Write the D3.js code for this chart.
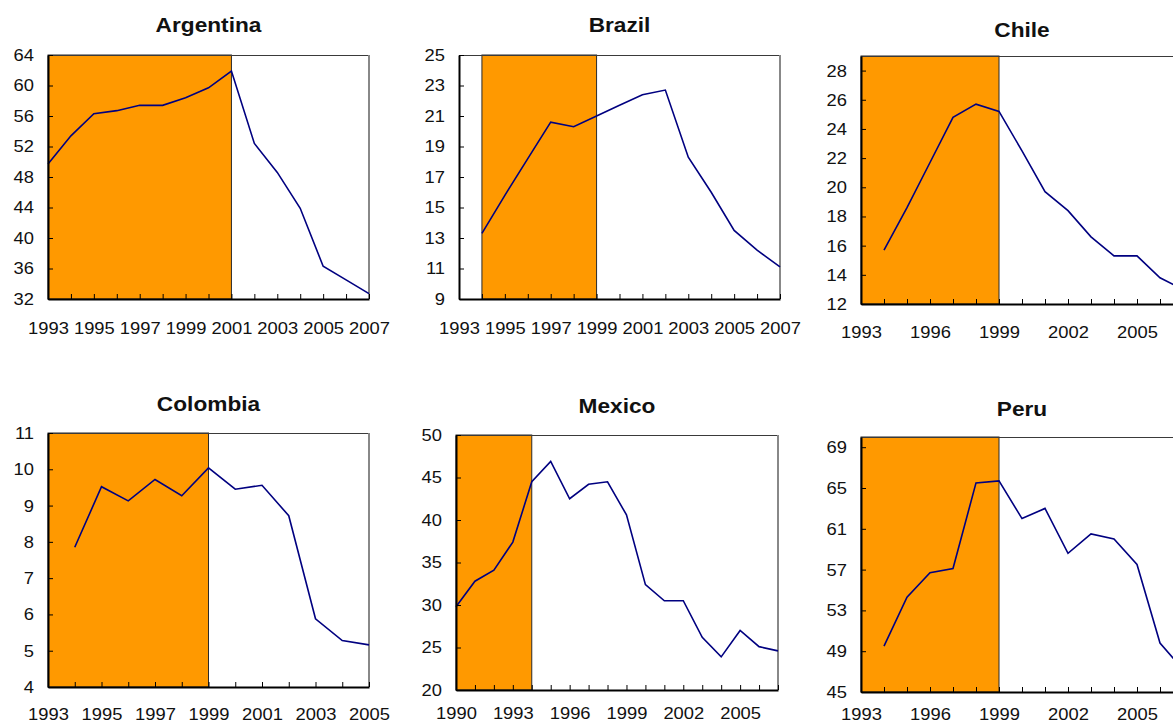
<!DOCTYPE html>
<html>
<head>
<meta charset="utf-8">
<script src="https://cdn.jsdelivr.net/npm/d3@7"></script>
<style>
  body { margin: 0; background: #fff; }
  svg { display: block; font-family: "Liberation Sans", Arial, sans-serif; }
</style>
</head>
<body>
<svg id="chart" width="1173" height="725"></svg>
<script>
// ---- data ----
const argYears = [1993, 1994, 1995, 1996, 1997, 1998, 1999, 2000, 2001, 2002, 2003, 2004, 2005, 2006, 2007];
const argValues = [49.7, 53.4, 56.3, 56.7, 57.4, 57.4, 58.4, 59.7, 61.9, 52.4, 48.6, 43.9, 36.3, 34.5, 32.7];
const argTicks = [32, 36, 40, 44, 48, 52, 56, 60, 64];
const argShade = [1993, 2001];

const braYears = [1993, 1994, 1995, 1996, 1997, 1998, 1999, 2000, 2001, 2002, 2003, 2004, 2005, 2006, 2007];
const braValues = [null, 13.3, 15.8, 18.2, 20.6, 20.3, 21.0, 21.7, 22.4, 22.7, 18.3, 16.0, 13.5, 12.2, 11.1];
const braTicks = [9, 11, 13, 15, 17, 19, 21, 23, 25];
const braShade = [1994, 1999];

const chiYears = [1993, 1994, 1995, 1996, 1997, 1998, 1999, 2000, 2001, 2002, 2003, 2004, 2005, 2006, 2007];
const chiValues = [null, 15.7, 18.6, 21.7, 24.8, 25.7, 25.2, 22.5, 19.7, 18.4, 16.6, 15.3, 15.3, 13.8, 13.0];
const chiTicks = [12, 14, 16, 18, 20, 22, 24, 26, 28];
const chiShade = [1993, 1999];

const colYears = [1993, 1994, 1995, 1996, 1997, 1998, 1999, 2000, 2001, 2002, 2003, 2004, 2005];
const colValues = [null, 7.85, 9.52, 9.13, 9.72, 9.27, 10.04, 9.45, 9.56, 8.72, 5.88, 5.28, 5.16];
const colTicks = [4, 5, 6, 7, 8, 9, 10, 11];
const colShade = [1993, 1999];

const mexYears = [1990, 1991, 1992, 1993, 1994, 1995, 1996, 1997, 1998, 1999, 2000, 2001, 2002, 2003, 2004, 2005, 2006, 2007];
const mexValues = [29.8, 32.8, 34.1, 37.4, 44.5, 46.9, 42.5, 44.2, 44.5, 40.6, 32.4, 30.5, 30.5, 26.2, 23.9, 27.0, 25.1, 24.6];
const mexTicks = [20, 25, 30, 35, 40, 45, 50];
const mexShade = [1990, 1994];

const perYears = [1993, 1994, 1995, 1996, 1997, 1998, 1999, 2000, 2001, 2002, 2003, 2004, 2005, 2006, 2007];
const perValues = [null, 49.5, 54.3, 56.7, 57.1, 65.5, 65.7, 62.0, 63.0, 58.6, 60.5, 60.0, 57.5, 49.8, 47.2];
const perTicks = [45, 49, 53, 57, 61, 65, 69];
const perShade = [1993, 1999];

// ---- layout of each small panel ----
const panels = [
  { title: "Argentina", years: argYears, values: argValues, yTicks: argTicks, yMax: 64, shade: argShade, step: 2,
    left: 48, right: 369, top: 55, bottom: 299, titleY: 32, labelY: 334 },
  { title: "Brazil", years: braYears, values: braValues, yTicks: braTicks, yMax: 25, shade: braShade, step: 2,
    left: 459, right: 780, top: 55, bottom: 299, titleY: 32, labelY: 334 },
  { title: "Chile", years: chiYears, values: chiValues, yTicks: chiTicks, yMax: 29, shade: chiShade, step: 3,
    left: 861, right: 1183, top: 56, bottom: 304, titleY: 37, labelY: 338 },
  { title: "Colombia", years: colYears, values: colValues, yTicks: colTicks, yMax: 11, shade: colShade, step: 2,
    left: 48, right: 369, top: 433, bottom: 687, titleY: 411, labelY: 720 },
  { title: "Mexico", years: mexYears, values: mexValues, yTicks: mexTicks, yMax: 50, shade: mexShade, step: 3,
    left: 456, right: 778, top: 435, bottom: 690, titleY: 413, labelY: 719 },
  { title: "Peru", years: perYears, values: perValues, yTicks: perTicks, yMax: 70, shade: perShade, step: 3,
    left: 861, right: 1183, top: 437, bottom: 692, titleY: 416, labelY: 720 }
];

const svg = d3.select("#chart");
const stretch = 1.08;   // reference text is a bit wider than plain Arial
const fontSize = 17;

panels.forEach(p => {
  const g = svg.append("g");
  const x = d3.scaleLinear()
    .domain([p.years[0], p.years[p.years.length - 1]])
    .range([p.left, p.right]);
  const y = d3.scaleLinear()
    .domain([p.yTicks[0], p.yMax])
    .range([p.bottom, p.top]);

  // shaded period
  g.append("rect")
    .attr("x", x(p.shade[0]))
    .attr("y", p.top)
    .attr("width", x(p.shade[1]) - x(p.shade[0]))
    .attr("height", p.bottom - p.top)
    .attr("fill", "#ff9900")
    .attr("stroke", "#2b2b2b")
    .attr("stroke-width", 1);

  // plot frame (top and right)
  g.append("line")
    .attr("x1", p.left).attr("x2", p.right)
    .attr("y1", p.top + 0.5).attr("y2", p.top + 0.5)
    .attr("stroke", "#3a3a3a").attr("stroke-width", 1.2);
  g.append("line")
    .attr("x1", p.right).attr("x2", p.right)
    .attr("y1", p.top).attr("y2", p.bottom)
    .attr("stroke", "#888").attr("stroke-width", 2);

  // series line
  const pts = p.years.map((yr, i) => ({ yr: yr, v: p.values[i] }));
  const line = d3.line()
    .defined(d => d.v != null)
    .x(d => x(d.yr))
    .y(d => y(d.v));
  g.append("path")
    .datum(pts)
    .attr("d", line)
    .attr("fill", "none")
    .attr("stroke", "#000080")
    .attr("stroke-width", 1.6);

  // x-axis
  const xAxis = d3.axisBottom(x)
    .tickValues(p.years)
    .tickSize(-5)
    .tickSizeOuter(0)
    .tickPadding(p.labelY - p.bottom - 0.71 * fontSize)
    .tickFormat((d, i) => i % p.step === 0 ? String(d) : "");
  const gx = g.append("g")
    .attr("transform", "translate(0," + p.bottom + ")")
    .call(xAxis);

  // y-axis
  const yAxis = d3.axisLeft(y)
    .tickValues(p.yTicks)
    .tickSize(-5)
    .tickSizeOuter(0)
    .tickPadding(13)
    .tickFormat(d3.format("d"));
  const gy = g.append("g")
    .attr("transform", "translate(" + p.left + ",0)")
    .call(yAxis);

  [gx, gy].forEach(ax => {
    ax.attr("font-family", null).attr("font-size", fontSize);
    ax.select(".domain").attr("stroke", "#000").attr("stroke-width", 2);
    ax.selectAll(".tick line").attr("stroke", "#000").attr("stroke-width", 1);
    ax.selectAll(".tick text")
      .attr("fill", "#111")
      .attr("transform", "scale(" + stretch + ",1)");
  });

  // title
  g.append("text")
    .attr("transform", "translate(" + ((p.left + p.right) / 2) + "," + p.titleY + ") scale(" + stretch + ",1)")
    .attr("text-anchor", "middle")
    .attr("font-weight", "bold")
    .attr("font-size", 21)
    .attr("fill", "#111")
    .text(p.title);
});
</script>
</body>
</html>
